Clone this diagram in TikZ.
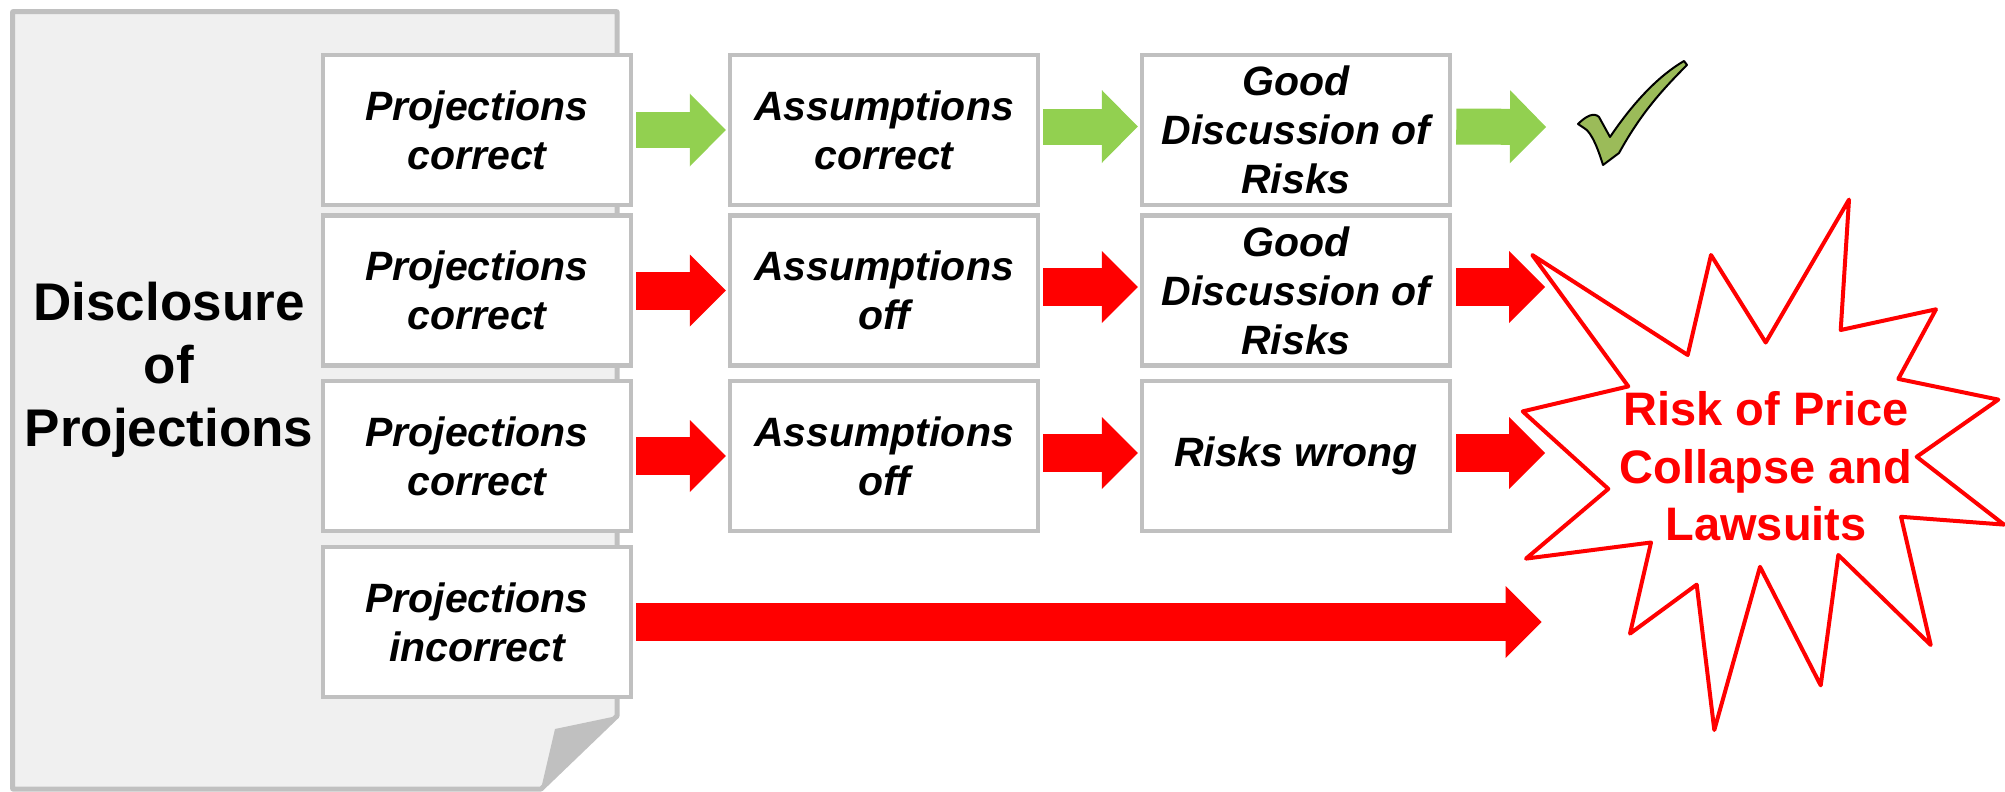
\documentclass[tikz,border=0pt]{standalone}
\usepackage{fontspec}
\setmainfont{Liberation Sans}
\usetikzlibrary{arrows.meta}
\definecolor{pagefill}{HTML}{F0F0F0}
\definecolor{pageline}{HTML}{C0C0C0}
\definecolor{foldc}{HTML}{C0C0C0}
\definecolor{boxline}{HTML}{C0C0C0}
\definecolor{garrowc}{HTML}{92D050}
\definecolor{rarrowc}{HTML}{FF0000}
\definecolor{checkc}{HTML}{9BBB59}
\begin{document}
\begin{tikzpicture}[x=1pt,y=-1pt,
  box/.style={draw=boxline, line width=4.5pt, fill=white, minimum width=308pt,
    minimum height=150pt, inner sep=0pt, align=center,
    font=\fontsize{41}{49}\selectfont\bfseries\itshape},
  garrow/.style={draw=garrowc, line width=36pt,
    -{Triangle[length=36pt,width=73pt,line width=0pt]}},
  rarrow/.style={draw=rarrowc, line width=38pt,
    -{Triangle[length=36pt,width=72pt,line width=0pt]}},
  titletext/.style={align=center, inner sep=0pt,
    font=\fontsize{53}{63}\selectfont\bfseries},
  bursttext/.style={align=center, inner sep=0pt, text=rarrowc,
    font=\fontsize{47}{57.5}\selectfont\bfseries},
]
\useasboundingbox (0,0) rectangle (2005,792);

% page
\draw[fill=pagefill, draw=pageline, line width=5pt, line join=round]
  (12.7,11.7) -- (617,11.7) -- (617,716) -- (541,789) -- (12.7,789) -- cycle;
\fill[foldc] (617,716) -- (555,729) -- (541,789) -- cycle;
\node[titletext] (title) at (169,370) {Disclosure\\of\\Projections};

% boxes
\node[box] (p1) at (477,130) {Projections\\correct};
\node[box] (p2) at (477,290.5) {Projections\\correct};
\node[box] (p3) at (477,456) {Projections\\correct};
\node[box] (p4) at (477,622) {Projections\\incorrect};
\node[box] (a1) at (884,130) {Assumptions\\correct};
\node[box] (a2) at (884,290.5) {Assumptions\\off};
\node[box] (a3) at (884,456) {Assumptions\\off};
\node[box] (g1) at (1296,130) {Good\\Discussion of\\Risks};
\node[box] (g2) at (1296,290.5) {Good\\Discussion of\\Risks};
\node[box] (g3) at (1296,456) {Risks wrong};

% check mark
\draw[fill=checkc, draw=black, line width=2pt, line join=round]
  (1578,124) .. controls (1586,116) and (1594,112) .. (1599,117)
  -- (1610,137) .. controls (1635,100) and (1660,75) .. (1684,61)
  -- (1687,65) .. controls (1660,92) and (1640,115) .. (1619,153)
  -- (1603,165) .. controls (1599,152) and (1592,132) .. (1584,128) -- cycle;
\coordinate (chk) at (1546,127);

% starburst
\draw[draw=rarrowc, fill=white, line width=4pt, line join=round]
  (1532.3,255) -- (1687.7,355) -- (1711,255) -- (1765.7,342.5)
  -- (1849,199.6) -- (1840.7,330) -- (1936,309.3) -- (1898.3,378.9)
  -- (1998.3,399.6) -- (1916.7,456.8) -- (2004,524.6) -- (1901,516.8)
  -- (1930.7,645) -- (1838.3,555) -- (1820.7,685.4) -- (1760,566.8)
  -- (1714.3,730) -- (1696.7,584.6) -- (1630,633.6) -- (1651,542.5)
  -- (1526,558.6) -- (1608.3,488.9) -- (1522.7,411.4) -- (1628.3,386.4) -- cycle;
\node[bursttext] (burst) at (1766,466.5) {Risk of Price\\Collapse and\\Lawsuits};
\coordinate (tip2) at (1545,287);
\coordinate (tip3) at (1545,453);
\coordinate (tip4) at (1541.5,622);

% arrows row 1
\draw[garrow] ([xshift=3pt]p1.east) -- ([xshift=-2pt]a1.west);
\draw[garrow] ([xshift=3pt,yshift=3.5pt]a1.east) -- ([xshift=-2pt,yshift=3.5pt]g1.west);
\draw[garrow] ([xshift=4pt,yshift=3.5pt]g1.east) -- (chk);
% row 2
\draw[rarrow] ([xshift=3pt]p2.east) -- ([xshift=-2pt]a2.west);
\draw[rarrow] ([xshift=3pt,yshift=3.5pt]a2.east) -- ([xshift=-2pt,yshift=3.5pt]g2.west);
\draw[rarrow] ([xshift=4pt,yshift=3.5pt]g2.east) -- (tip2);
% row 3
\draw[rarrow] ([xshift=3pt]p3.east) -- ([xshift=-2pt]a3.west);
\draw[rarrow] ([xshift=3pt,yshift=3pt]a3.east) -- ([xshift=-2pt,yshift=3pt]g3.west);
\draw[rarrow] ([xshift=4pt,yshift=3pt]g3.east) -- (tip3);
% row 4
\draw[rarrow] ([xshift=3pt]p4.east) -- (tip4);
\end{tikzpicture}
\end{document}
